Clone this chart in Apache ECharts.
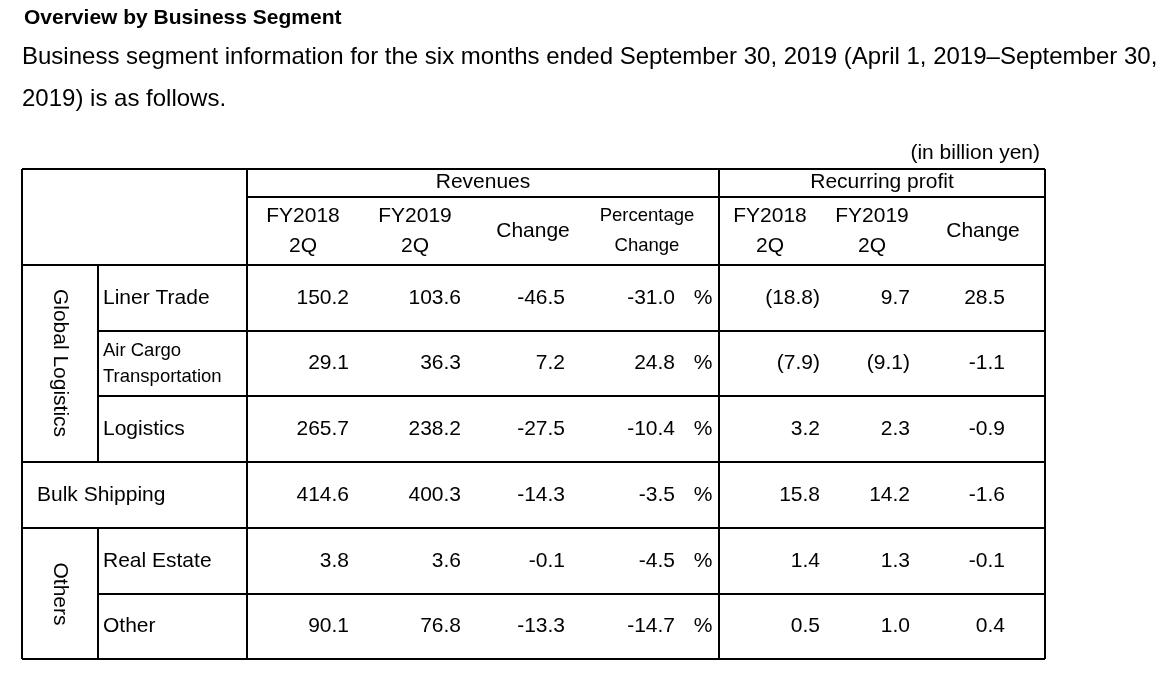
<!DOCTYPE html>
<html><head><meta charset="utf-8">
<script src="https://cdn.jsdelivr.net/npm/echarts@6/dist/echarts.min.js"></script>
<style>html,body{margin:0;background:#fff}#main{width:1175px;height:678px}</style>
</head><body><div id="main"></div>
<script>
var rowLabels = ['Liner Trade', 'Air Cargo\nTransportation', 'Logistics', 'Bulk Shipping', 'Real Estate', 'Other'];
var rev2018 = ['150.2', '29.1', '265.7', '414.6', '3.8', '90.1'];
var rev2019 = ['103.6', '36.3', '238.2', '400.3', '3.6', '76.8'];
var revChange = ['-46.5', '7.2', '-27.5', '-14.3', '-0.1', '-13.3'];
var revPct = ['-31.0', '24.8', '-10.4', '-3.5', '-4.5', '-14.7'];
var rp2018 = ['(18.8)', '(7.9)', '3.2', '15.8', '1.4', '0.5'];
var rp2019 = ['9.7', '(9.1)', '2.3', '14.2', '1.3', '1.0'];
var rpChange = ['28.5', '-1.1', '-0.9', '-1.6', '-0.1', '0.4'];
var subHeaders = ['FY2018\n2Q', 'FY2019\n2Q', 'Change', 'Percentage\nChange', 'FY2018\n2Q', 'FY2019\n2Q', 'Change'];

var font = '"Liberation Sans", Arial, sans-serif';
var el = [];
function txt(x, y, s, size, align, extra) {
  var o = {type: 'text', x: x, y: y, style: {text: s, font: (extra && extra.bold ? 'bold ' : '') + size + 'px ' + font,
    fill: '#000', textAlign: align || 'left', textVerticalAlign: 'middle', lineHeight: extra && extra.lh || size * 1.3}};
  if (extra && extra.rot) o.rotation = extra.rot;
  el.push(o);
}
function line(x1, y1, x2, y2) {
  el.push({type: 'line', shape: {x1: x1, y1: y1, x2: x2, y2: y2}, style: {stroke: '#000', lineWidth: 2}});
}

txt(24, 18, 'Overview by Business Segment', 21, 'left', {bold: true});
txt(22, 57, 'Business segment information for the six months ended September 30, 2019 (April 1, 2019\u2013September 30,', 24);
txt(22, 99, '2019) is as follows.', 24);
txt(1040, 153, '(in billion yen)', 21, 'right');

var rowTop = [265, 331, 396, 462, 528, 594, 659];
line(22, 169, 1045, 169);
line(247, 197, 1045, 197);
line(22, 265, 1045, 265);
line(98, 331, 1045, 331);
line(98, 396, 1045, 396);
line(22, 462, 1045, 462);
line(22, 528, 1045, 528);
line(98, 594, 1045, 594);
line(22, 659, 1045, 659);
line(22, 169, 22, 659);
line(98, 265, 98, 462);
line(98, 528, 98, 659);
line(247, 169, 247, 659);
line(719, 169, 719, 659);
line(1045, 169, 1045, 659);

txt(483, 182, 'Revenues', 21, 'center');
txt(882, 182, 'Recurring profit', 21, 'center');
var hdrX = [303, 415, 533, 647, 770, 872, 983];
subHeaders.forEach(function (h, i) {
  txt(hdrX[i], 231, h, i === 3 ? 18.5 : 21, 'center', {lh: 30});
});

txt(60, 363, 'Global Logistics', 21, 'center', {rot: -Math.PI / 2});
txt(60, 594, 'Others', 21, 'center', {rot: -Math.PI / 2});

var cols = [[rev2018, 349], [rev2019, 461], [revChange, 565], [revPct, 675], [rp2018, 820], [rp2019, 910], [rpChange, 1005]];
rowLabels.forEach(function (lab, r) {
  var cy = (rowTop[r] + rowTop[r + 1]) / 2;
  if (r === 3) txt(37, cy, lab, 21);
  else if (r === 1) txt(103, cy, lab, 18.5, 'left', {lh: 26});
  else txt(103, cy, lab, 21);
  cols.forEach(function (c) { txt(c[1], cy, c[0][r], 21, 'right'); });
  txt(703, cy, '%', 21, 'center');
});

var chart = echarts.init(document.getElementById('main'));
chart.setOption({animation: false, graphic: {elements: el}});
</script></body></html>
